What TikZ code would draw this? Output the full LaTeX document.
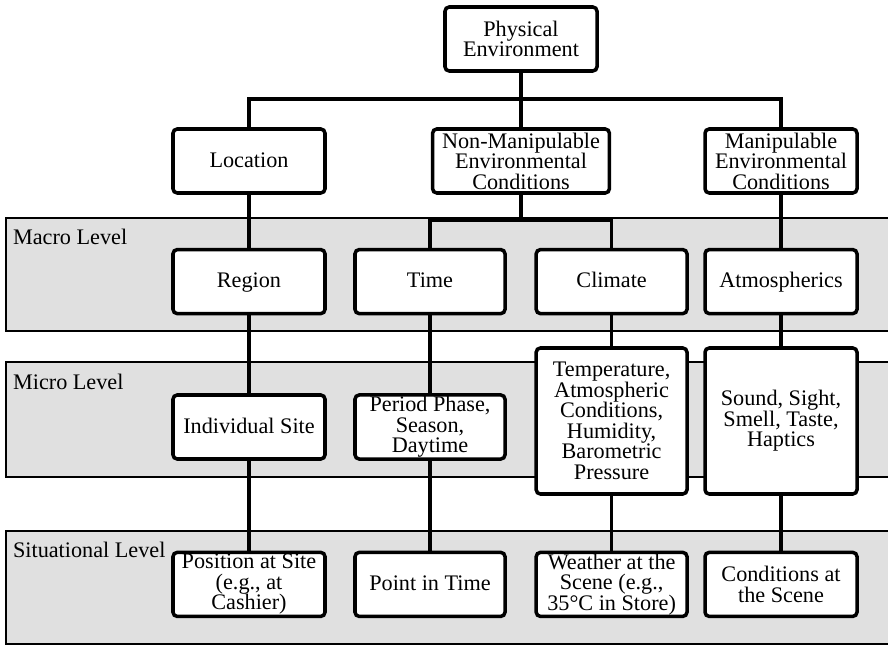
\documentclass[tikz,border=0pt]{standalone}
\usepackage{fontspec}
\setmainfont{Liberation Serif}
\tikzset{
    box/.style={draw, line width=2.5pt, rounded corners=3pt, fill=white, align=center,
        minimum width=3.8cm, minimum height=1.6cm, inner sep=1pt,
        font=\fontsize{15.8}{14.6}\selectfont},
    oneline/.style={text height=11pt, text depth=2pt},
    band/.style={draw, line width=1pt, fill=bandgray},
    link/.style={line width=2.5pt},
    levelname/.style={anchor=west, inner sep=0pt, font=\fontsize{15.8}{14.6}\selectfont}
}
\definecolor{bandgray}{RGB}{224,224,224}
\begin{document}
\begin{tikzpicture}
        \useasboundingbox (0,0) rectangle (22.2,-16.15);

        % levels
        \draw[band] (22.6,-5.45) -- (0.15,-5.45) -- (0.15,-8.275) -- (22.6,-8.275);
        \draw[band] (22.6,-9.05) -- (0.15,-9.05) -- (0.15,-11.925) -- (22.6,-11.925);
        \draw[band] (22.6,-13.275) -- (0.15,-13.275) -- (0.15,-16.1) -- (22.6,-16.1);
        \node[levelname] (macro) at (0.32,-5.93) {Macro Level};
        \node[levelname] (micro) at (0.32,-9.55) {Micro Level};
        \node[levelname] (situational) at (0.32,-13.75) {Situational Level};

        \node[box] (pe) at (13.025,-0.975) {Physical\\Environment};

        \node[box, oneline] (loc) at (6.225,-4.025) {Location};
        \node[box, minimum width=4.42cm] (nonman) at (13.025,-4.025) {Non-Manipulable\\Environmental\\Conditions};
        \node[box] (man) at (19.525,-4.025) {Manipulable\\Environmental\\Conditions};

        \node[box, oneline] (region) at (6.225,-7.04) {Region};
        \node[box, oneline, minimum width=3.75cm] (time) at (10.75,-7.04) {Time};
        \node[box, oneline, minimum width=3.77cm] (climate) at (15.29,-7.04) {Climate};
        \node[box, oneline] (atmos) at (19.525,-7.04) {Atmospherics};

        \node[box, oneline] (site) at (6.225,-10.675) {Individual Site};
        \node[box, minimum width=3.75cm] (period) at (10.75,-10.675) {Period Phase,\\Season,\\Daytime};
        \node[box, minimum width=3.77cm, minimum height=3.65cm] (weather) at (15.29,-10.525) {Temperature,\\Atmospheric\\Conditions,\\Humidity,\\Barometric\\Pressure};
        \node[box, minimum height=3.65cm] (senses) at (19.525,-10.525) {Sound, Sight,\\Smell, Taste,\\Haptics};

        \node[box] (position) at (6.225,-14.61) {Position at Site\\(e.g., at\\Cashier)};
        \node[box, oneline, minimum width=3.75cm] (point) at (10.75,-14.61) {Point in Time};
        \node[box, minimum width=3.77cm] (scene) at (15.29,-14.61) {Weather at the\\Scene (e.g.,\\35°C in Store)};
        \node[box] (conds) at (19.525,-14.61) {Conditions at\\the Scene};

        \coordinate (topbus) at (13.025,-2.475);
        \coordinate (midbus) at (13.025,-5.5);
        \draw[link] (pe.south) -- (topbus);
        \draw[link] (loc.north) |- (topbus) -| (man.north);
        \draw[link] (topbus) -- (nonman.north);
        \draw[link] (nonman.south) -- (midbus);
        \draw[link] (time.north) |- (midbus) -| (climate.north);
        \draw[link] (loc.south) -- (region.north);
        \draw[link] (man.south) -- (atmos.north);

        \draw[link] (region.south) -- (site.north);
        \draw[link] (site.south) -- (position.north);
        \draw[link] (time.south) -- (period.north);
        \draw[link] (period.south) -- (point.north);
        \draw[link] (climate.south) -- (weather.north);
        \draw[link] (weather.south) -- (scene.north);
        \draw[link] (atmos.south) -- (senses.north);
        \draw[link] (senses.south) -- (conds.north);
\end{tikzpicture}
\end{document}
